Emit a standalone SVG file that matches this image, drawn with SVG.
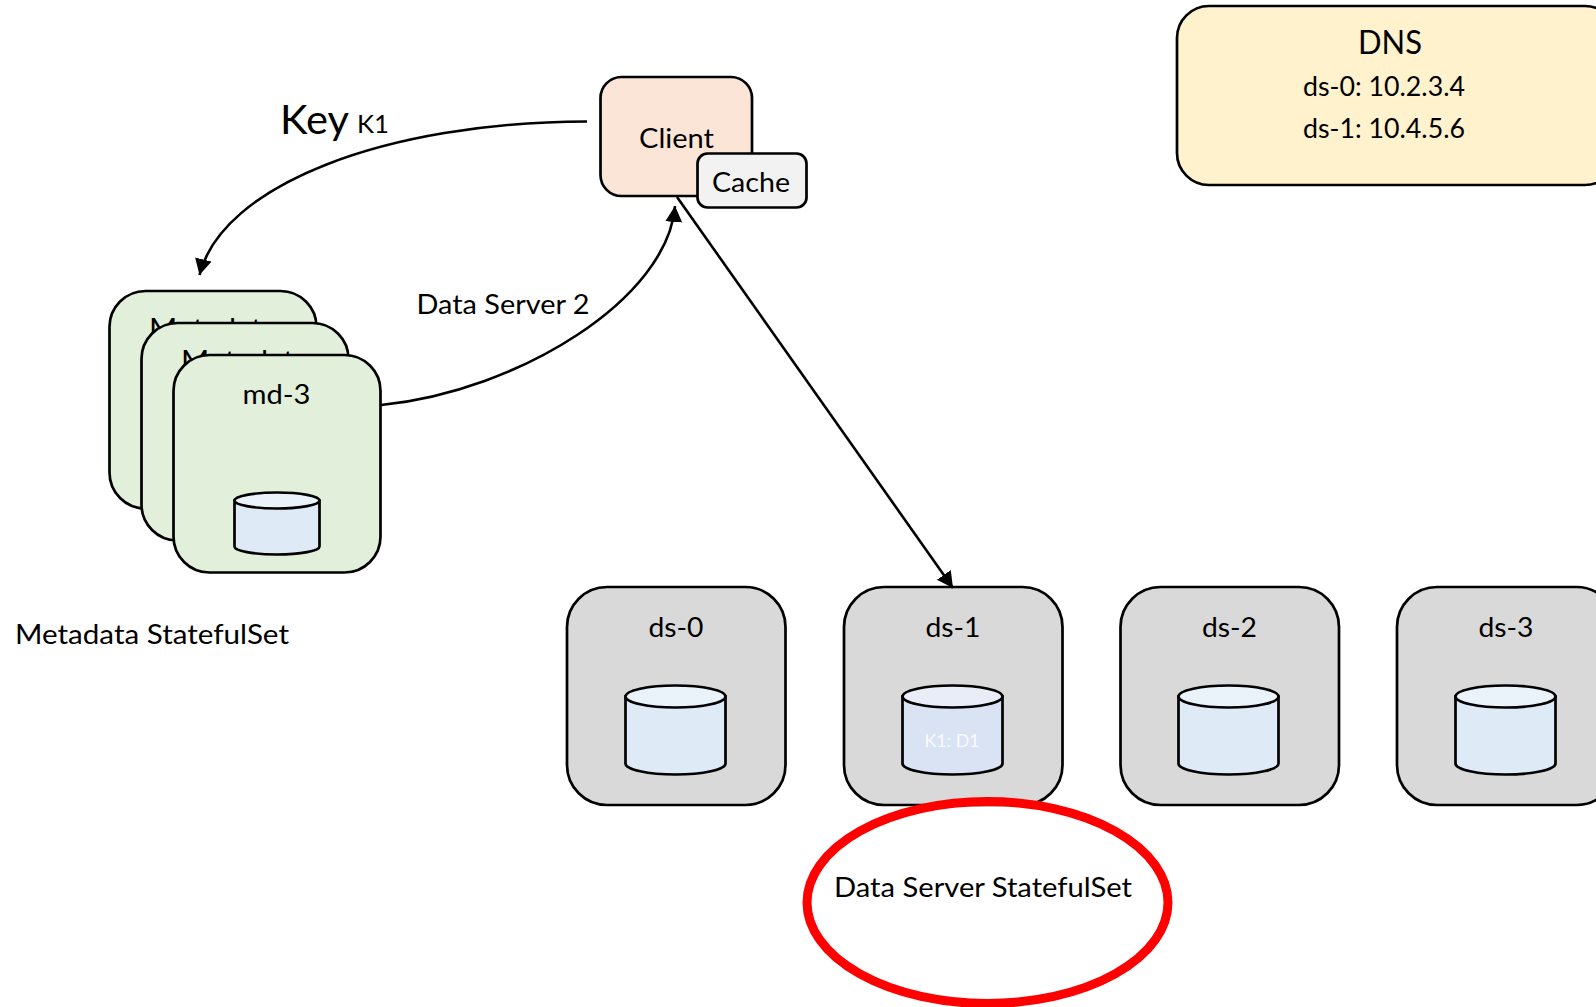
<svg xmlns="http://www.w3.org/2000/svg" width="1596" height="1007" viewBox="0 0 1596 1007">
<style>
text{font-family:"Lato","Carlito","Open Sans",sans-serif;fill:#000;font-size:27px}
.box{stroke:#000;stroke-width:2.7}
.md{fill:#E2EFDA}
.ds{fill:#D9D9D9}
.cb{fill:#DEEBF7;stroke:#000;stroke-width:2.7}
.ct{fill:#EBF3FA;stroke:#000;stroke-width:2.7}
.cb1{fill:#DAE3F3;stroke:#000;stroke-width:2.7}
.ct1{fill:#E9EDF8;stroke:#000;stroke-width:2.7}
.conn{fill:none;stroke:#000;stroke-width:2.6}
</style>
<defs>
<marker id="arrow" markerUnits="userSpaceOnUse" markerWidth="20" markerHeight="20" refX="16" refY="9" orient="auto">
<path d="M0 0.500L16 9L0 17.500Z" fill="#000"/>
</marker>
</defs>
<g id="dns">
<rect class="box" x="1177" y="6" width="440" height="179" rx="32" fill="#FFF2CC"/>
<text x="1358" y="54" style="font-size:32px" textLength="64" lengthAdjust="spacingAndGlyphs">DNS</text>
<text x="1303" y="96" textLength="162" lengthAdjust="spacingAndGlyphs">ds-0: 10.2.3.4</text>
<text x="1303" y="138" textLength="162" lengthAdjust="spacingAndGlyphs">ds-1: 10.4.5.6</text>
</g>
<g id="client">
<rect class="box" x="600.5" y="77" width="151.500" height="119" rx="21" fill="#FBE5D6"/>
<text x="639" y="148" textLength="75" lengthAdjust="spacingAndGlyphs">Client</text>
</g>
<g id="cache">
<rect class="box" x="697.5" y="153.500" width="109" height="54" rx="10" fill="#F2F2F2"/>
<text x="712" y="192" textLength="78" lengthAdjust="spacingAndGlyphs">Cache</text>
</g>
<g id="md-1">
<rect class="box md" x="109.500" y="291" width="207" height="217.500" rx="36"/>
<text x="149" y="338" textLength="128" lengthAdjust="spacingAndGlyphs">Metadata</text>
</g>
<g id="md-2">
<rect class="box md" x="141.500" y="323" width="207" height="217.500" rx="36"/>
<text x="181" y="370" textLength="128" lengthAdjust="spacingAndGlyphs">Metadata</text>
</g>
<g id="md-3">
<rect class="box md" x="173.500" y="355" width="207" height="217.500" rx="36"/>
<text x="242.500" y="404" textLength="68" lengthAdjust="spacingAndGlyphs">md-3</text>
<path class="cb" d="M234.500 500.500V546.500A42.500 8 0 0 0 319.500 546.500V500.500Z"/>
<ellipse class="ct" cx="277" cy="500.500" rx="42.500" ry="8"/>
</g>
<text id="metadata-label" x="15" y="644" textLength="274" lengthAdjust="spacingAndGlyphs">Metadata StatefulSet</text>
<g id="ds-0">
<rect class="box ds" x="567" y="587" width="218.500" height="218" rx="40"/>
<text x="648.500" y="637" textLength="55" lengthAdjust="spacingAndGlyphs">ds-0</text>
<path class="cb" d="M625.500 696.500V763.500A50 11 0 0 0 725.500 763.500V696.500Z"/>
<ellipse class="ct" cx="675.500" cy="696.500" rx="50" ry="11"/>
</g>
<g id="ds-1">
<rect class="box ds" x="844" y="587" width="218.500" height="218" rx="40"/>
<text x="925.500" y="637" textLength="55" lengthAdjust="spacingAndGlyphs">ds-1</text>
<path class="cb1" d="M902.500 696.500V763.500A50 11 0 0 0 1002.500 763.500V696.500Z"/>
<ellipse class="ct1" cx="952.500" cy="696.500" rx="50" ry="11"/>
<text x="924.500" y="747" style="font-size:18px;fill:#fff" fill-opacity="0.85" textLength="55" lengthAdjust="spacingAndGlyphs">K1: D1</text>
</g>
<g id="ds-2">
<rect class="box ds" x="1120.500" y="587" width="218.500" height="218" rx="40"/>
<text x="1202" y="637" textLength="55" lengthAdjust="spacingAndGlyphs">ds-2</text>
<path class="cb" d="M1178.500 696.500V763.500A50 11 0 0 0 1278.500 763.500V696.500Z"/>
<ellipse class="ct" cx="1228.500" cy="696.500" rx="50" ry="11"/>
</g>
<g id="ds-3">
<rect class="box ds" x="1397" y="587" width="219.500" height="218" rx="40"/>
<text x="1478.500" y="637" textLength="55" lengthAdjust="spacingAndGlyphs">ds-3</text>
<path class="cb" d="M1455.500 696.500V763.500A50 11 0 0 0 1555.500 763.500V696.500Z"/>
<ellipse class="ct" cx="1505.500" cy="696.500" rx="50" ry="11"/>
</g>
<g id="connectors">
<path class="conn" marker-end="url(#arrow)" d="M587 121.500C385 122 222 185 199.500 275"/>
<path class="conn" marker-end="url(#arrow)" d="M381 405C520 391 668 298 675 206"/>
<path class="conn" marker-end="url(#arrow)" d="M677 197L953 588"/>
</g>
<text id="key-label" x="280" y="134" style="font-size:40px" textLength="69" lengthAdjust="spacingAndGlyphs">Key</text>
<text id="k1-label" x="357" y="133" style="font-size:25px" textLength="32" lengthAdjust="spacingAndGlyphs">K1</text>
<text id="ds2-label" x="416.500" y="314" textLength="173" lengthAdjust="spacingAndGlyphs">Data Server 2</text>
<ellipse id="highlight" cx="987.500" cy="902.500" rx="180.500" ry="101" fill="none" stroke="#FF0000" stroke-width="9"/>
<text id="ds-label" x="834" y="897" textLength="298" lengthAdjust="spacingAndGlyphs">Data Server StatefulSet</text>
</svg>
